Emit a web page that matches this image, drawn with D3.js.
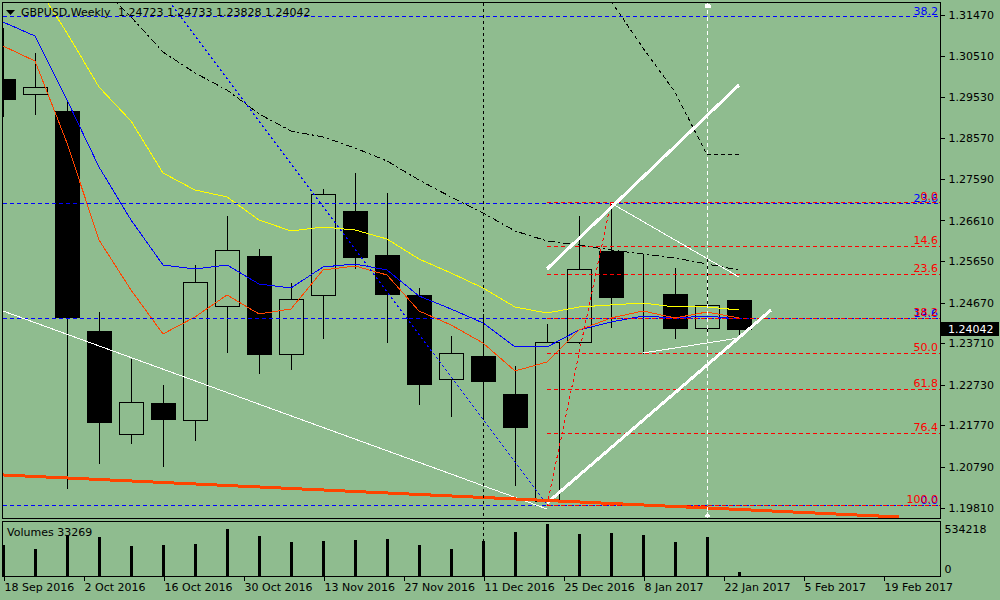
<!DOCTYPE html>
<html><head><meta charset="utf-8">
<script src="https://cdn.jsdelivr.net/npm/d3@7"></script>
<style>
html,body{margin:0;padding:0;background:#8fbc8f;}
svg{display:block;font-family:"DejaVu Sans",sans-serif;font-size:11px;}
</style></head><body>
<svg id="c" width="1000" height="600"></svg>
<script>
// ---------------- DATA ----------------
const symbolTitle = "GBPUSD,Weekly";
const barIndex = d3.range(24);
const open  = [1.29956,1.29602,1.29200,1.23997,1.21561,1.22294,1.21892,1.24588,1.25770,1.23453,1.24848,1.26835,1.25794,1.24848,1.22861,1.23405,1.22507,1.19976,1.23736,1.25889,1.24895,1.24872,1.24068,1.24723];
const high  = [1.31163,1.30571,1.29460,1.24446,1.23334,1.22720,1.25558,1.26716,1.25936,1.25132,1.27355,1.27733,1.27260,1.25014,1.23878,1.24399,1.23169,1.24162,1.26716,1.27047,1.25818,1.25487,1.25723,1.24733];
const low   = [1.29081,1.29129,1.20284,1.20875,1.21348,1.20804,1.21419,1.23500,1.23003,1.23098,1.23831,1.25487,1.23736,1.22270,1.21986,1.21939,1.20355,1.19882,1.23712,1.24091,1.23476,1.23831,1.23973,1.23828];
const close = [1.29483,1.29767,1.24328,1.21844,1.22317,1.21915,1.25155,1.25912,1.23453,1.24753,1.27237,1.25747,1.24872,1.22743,1.23476,1.22814,1.21726,1.23736,1.25463,1.24801,1.24890,1.24068,1.24612,1.24042];
const volume = [316000,275000,410000,399000,306000,316000,327000,482000,410000,347000,358000,368000,379000,316000,275000,358000,451000,534218,430000,441000,420000,347000,399000,33269];

const maYellow = [1.32889,1.32227,1.31044,1.29767,1.28963,1.27733,1.27331,1.27166,1.26622,1.26362,1.26456,1.26385,1.26172,1.25699,1.25368,1.25014,1.24564,1.24422,1.24564,1.24612,1.24659,1.24564,1.24564,1.24493];
const maBlue   = [1.31304,1.30973,1.29460,1.27875,1.26622,1.25558,1.25463,1.25558,1.25108,1.25014,1.25510,1.25581,1.25439,1.24824,1.24517,1.24186,1.23618,1.23618,1.24020,1.24209,1.24351,1.24304,1.24351,1.24280];
const maRed    = [1.30737,1.30382,1.28443,1.26149,1.24966,1.23926,1.24328,1.24848,1.24399,1.24517,1.25439,1.25534,1.25321,1.24470,1.24139,1.23713,1.23051,1.23263,1.24020,1.24304,1.24470,1.24304,1.24446,1.24304];
const maBlack  = [null,null,null,1.32180,1.31423,1.30595,1.30098,1.29696,1.29129,1.28727,1.28585,1.28325,1.28017,1.27568,1.27166,1.26787,1.26362,1.26125,1.26031,1.25912,1.25818,1.25723,1.25581,1.25439];
const maShift  = [null,null,null,null,null,null,null,null,null,null,null,null,null,null,null,null,null,null,null,1.31801,1.30690,1.29649,1.28159,1.28159];

// trend lines: [barIndex, price] anchors
const trendFrom = [[0,1.24470],[17,1.25463],[17,1.19929],[19,1.27023],[20,1.23476],[0,1.20591]];
const trendTo   = [[17,1.19787],[23,1.29815],[24,1.24493],[23,1.25274],[23,1.23831],[28,1.19598]];

// Fibonacci retracements: anchor A (100%) and B (0%)
const fibLevels = [0,14.6,23.6,38.2,50,61.8,76.4,100];
const fibRedA  = [17,1.19882], fibRedB  = [19,1.27047];
const fibBlueA = [-13,1.50146], fibBlueB = [17,1.19882];

const vLineBars = [15,22];

const priceTicks = [1.3147,1.3051,1.2953,1.2857,1.2759,1.2661,1.2565,1.2467,1.2371,1.2273,1.2177,1.2079,1.1981];
const dateTicks = ["2016-09-18","2016-10-02","2016-10-16","2016-10-30","2016-11-13","2016-11-27","2016-12-11","2016-12-25","2017-01-08","2017-01-22","2017-02-05","2017-02-19"];
const volTicks = [0,534218];

// ---------------- DRAW ----------------
const BG = "#8fbc8f";
const svg = d3.select("#c");
svg.append("rect").attr("width",1000).attr("height",600).attr("fill",BG);

const x  = d3.scaleLinear().domain([0,28]).range([3,899]);
const y  = d3.scaleLinear().domain([1.3147,1.1981]).range([15,508]);
const yv = d3.scaleLinear().domain([0,534218]).range([575.5,524]);
const xt = d3.scaleUtc().domain([new Date(Date.UTC(2016,8,18)), new Date(Date.UTC(2017,1,19))]).range([3,883]);

const defs = svg.append("defs");
defs.append("clipPath").attr("id","clipMain").append("rect").attr("x",3).attr("y",3).attr("width",937).attr("height",515);
defs.append("clipPath").attr("id","clipVol").append("rect").attr("x",3).attr("y",522).attr("width",937).attr("height",54);

const main = svg.append("g").attr("clip-path","url(#clipMain)").attr("shape-rendering","crispEdges");

// candles
const gC = main.append("g");
const cx = i => Math.round(x(i));
const bTop = i => Math.round(y(Math.max(open[i],close[i])));
const bBot = i => Math.round(y(Math.min(open[i],close[i])));
gC.selectAll("line.hw").data(barIndex).join("line")
  .attr("x1",i=>cx(i)+0.5).attr("x2",i=>cx(i)+0.5)
  .attr("y1",i=>Math.round(y(high[i]))).attr("y2",i=>bTop(i))
  .attr("stroke","#000");
gC.selectAll("line.lw").data(barIndex).join("line")
  .attr("x1",i=>cx(i)+0.5).attr("x2",i=>cx(i)+0.5)
  .attr("y1",i=>bBot(i)).attr("y2",i=>Math.round(y(low[i]))+1)
  .attr("stroke","#000");
gC.selectAll("rect.body").data(barIndex).join("rect")
  .attr("x",i=>cx(i)-12+0.5).attr("width",24)
  .attr("y",i=>bTop(i)+0.5).attr("height",i=>bBot(i)-bTop(i))
  .attr("fill",i=>close[i]<open[i]?"#000":"none")
  .attr("stroke","#000");

// moving averages
const lineGen = d3.line().defined(d=>d!=null).x((d,i)=>x(i)).y(d=>y(d));
const maSeries = [
  {v:maYellow,c:"#ffff00",w:1,dash:null},
  {v:maBlue,c:"#0000ff",w:1,dash:null},
  {v:maRed,c:"#ff4500",w:1,dash:null},
  {v:maBlack,c:"#000000",w:1,dash:"7,3,2,3"},
  {v:maShift,c:"#000000",w:1,dash:"4,3"}
];
maSeries.forEach(s=>{
  main.append("path").attr("d",lineGen(s.v)).attr("fill","none")
    .attr("stroke",s.c).attr("stroke-width",s.w).attr("stroke-dasharray",s.dash);
});

// fibonacci
const inPane = yy => yy >= 8 && yy <= 517;
function fibPrice(A,B,l){ return B[1] - (B[1]-A[1])*l/100; }
function fib(A,B,color,diagDash){
  const g = main.append("g");
  const x0 = Math.max(x(A[0]),3);
  fibLevels.forEach(l=>{
    const yy = Math.round(y(fibPrice(A,B,l)))+0.5;
    if(!inPane(yy)) return;
    g.append("line").attr("x1",x0).attr("x2",940).attr("y1",yy).attr("y2",yy)
      .attr("stroke",color).attr("stroke-dasharray","4,3");
  });
  g.append("line").attr("x1",x(A[0])).attr("y1",y(A[1])).attr("x2",x(B[0])).attr("y2",y(B[1]))
    .attr("stroke",color).attr("stroke-dasharray",diagDash);
}
function fibLabels(A,B,color,dyOff){
  const g = svg.append("g");
  fibLevels.forEach(l=>{
    const yy = Math.round(y(fibPrice(A,B,l)));
    if(!inPane(yy)) return;
    g.append("text").attr("x",938).attr("y",yy-dyOff)
      .attr("text-anchor","end").attr("fill",color).text(l.toFixed(1));
  });
}
fib(fibBlueA,fibBlueB,"#0000ff","2,3");
fib(fibRedA,fibRedB,"#ff0000","3,3");

// trend lines
const trendStyle = [
  {c:"#ffffff",w:1},{c:"#ffffff",w:3},{c:"#ffffff",w:3},{c:"#ffffff",w:1},{c:"#ffffff",w:1},{c:"#ff4500",w:3}
];
trendFrom.forEach((f,k)=>{
  const t = trendTo[k];
  main.append("line").attr("x1",x(f[0])).attr("y1",y(f[1])).attr("x2",x(t[0])).attr("y2",y(t[1]))
    .attr("stroke",trendStyle[k].c).attr("stroke-width",trendStyle[k].w);
});

// vertical lines
main.append("line").attr("x1",cx(vLineBars[0])+0.5).attr("x2",cx(vLineBars[0])+0.5).attr("y1",3).attr("y2",518)
  .attr("stroke","#000").attr("stroke-dasharray","3,3");
const wx = cx(vLineBars[1])+0.5;
main.append("line").attr("x1",wx).attr("x2",wx).attr("y1",3).attr("y2",518)
  .attr("stroke","#fff").attr("stroke-dasharray","4,3");
main.append("path").attr("d",`M${wx-3},8 L${wx-3},5 L${wx},3 L${wx+3},5 L${wx+3},8 Z`).attr("fill","#fff");
main.append("path").attr("d",`M${wx-3},517 L${wx},512 L${wx+3},517 Z`).attr("fill","#fff");

fibLabels(fibBlueA,fibBlueB,"#0000ff",1);
fibLabels(fibRedA,fibRedB,"#ff0000",2);

// volume pane
const vol = svg.append("g").attr("clip-path","url(#clipVol)").attr("shape-rendering","crispEdges");
vol.selectAll("rect").data(barIndex).join("rect")
  .attr("x",i=>cx(i)-1).attr("width",3)
  .attr("y",i=>Math.round(yv(volume[i]))).attr("height",i=>576-Math.round(yv(volume[i])))
  .attr("fill","#000");
vol.append("line").attr("x1",cx(vLineBars[0])+0.5).attr("x2",cx(vLineBars[0])+0.5).attr("y1",521).attr("y2",577)
  .attr("stroke","#000").attr("stroke-dasharray","3,3");

// frames
const frames = svg.append("g").attr("shape-rendering","crispEdges").attr("fill","none").attr("stroke","#000");
frames.append("rect").attr("x",2.5).attr("y",2.5).attr("width",938).attr("height",516);
frames.append("rect").attr("x",2.5).attr("y",521.5).attr("width",938).attr("height",55);

// price axis
const ax = svg.append("g").attr("transform","translate(940.5,0)")
  .call(d3.axisRight(y).tickValues(priceTicks).tickFormat(d3.format(".5f")).tickSize(4).tickPadding(4));
ax.select(".domain").remove();
ax.selectAll("text").attr("fill","#000").style("font-family","DejaVu Sans").style("font-size","11px");
ax.selectAll("line").attr("shape-rendering","crispEdges");

// current price label
const cp = close[close.length-1];
const cpY = Math.round(y(cp));
svg.append("rect").attr("x",941).attr("y",cpY-7).attr("width",58).attr("height",14).attr("fill","#000");
svg.append("text").attr("x",948).attr("y",cpY).attr("dy","0.36em").attr("fill","#fff").text(d3.format(".5f")(cp));

// volume axis
const av = svg.append("g").attr("transform","translate(940.5,0)")
  .call(d3.axisRight(yv).tickValues(volTicks).tickFormat(d3.format("d")).tickSize(0).tickPadding(4));
av.select(".domain").remove();
av.selectAll("text").attr("fill","#000").style("font-family","DejaVu Sans").style("font-size","11px")
  .attr("y",d=>d===0?-7:5);

// time axis
const parse = d3.utcParse("%Y-%m-%d");
const atx = svg.append("g").attr("transform","translate(0,576.5)")
  .call(d3.axisBottom(xt).tickValues(dateTicks.map(parse)).tickFormat(d3.utcFormat("%-d %b %Y")).tickSize(4).tickPadding(3));
atx.select(".domain").remove();
atx.selectAll("line").attr("shape-rendering","crispEdges").attr("transform","translate(0.5,0)");
atx.selectAll("text").attr("text-anchor","start").attr("x",1).attr("fill","#000")
  .style("font-family","DejaVu Sans").style("font-size","11px");

// titles
svg.append("path").attr("d","M6,10 L15,10 L10.5,15 Z").attr("fill","#000");
svg.append("text").attr("x",21).attr("y",16).attr("fill","#000").text(symbolTitle);
svg.append("text").attr("x",118).attr("y",16).attr("fill","#000")
  .text([open[23],high[23],low[23],close[23]].map(d3.format(".5f")).join(" "));
svg.append("text").attr("x",7).attr("y",536).attr("fill","#000").text("Volumes " + volume[23]);
</script>
</body></html>
